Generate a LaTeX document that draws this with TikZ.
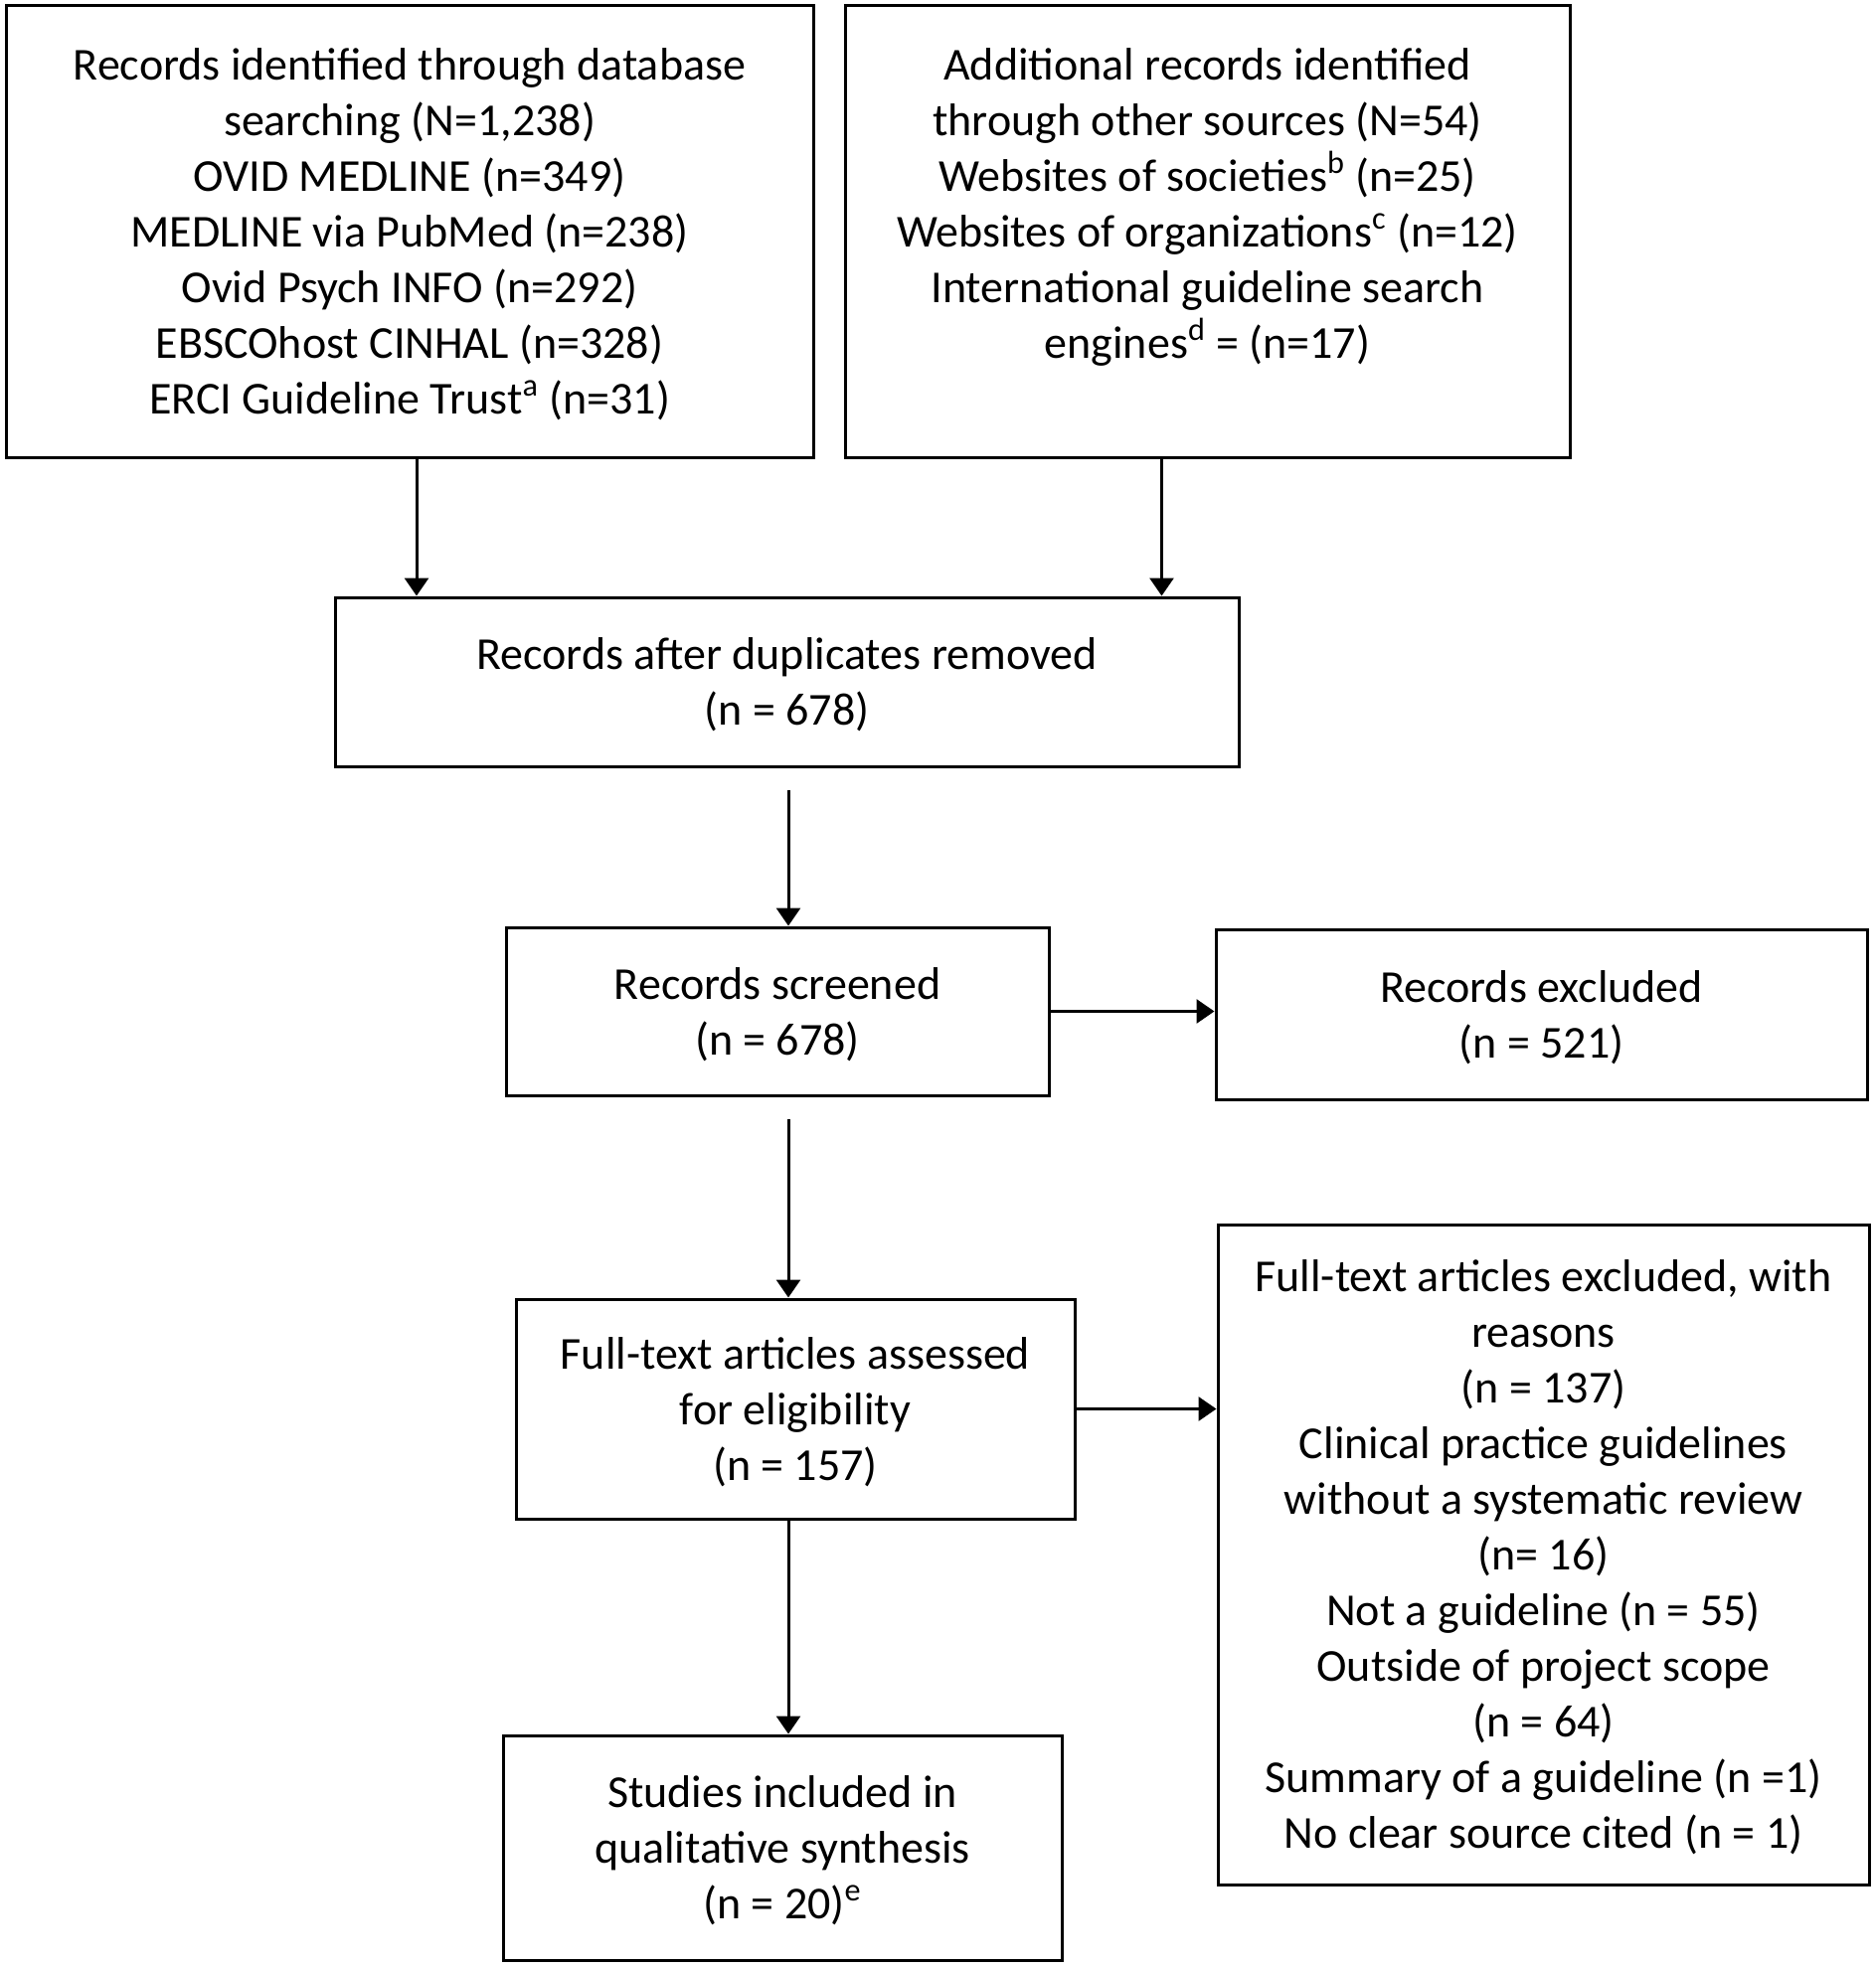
\documentclass[tikz,border=0pt]{standalone}
\usepackage{fontspec}
\setmainfont{Carlito}
\usetikzlibrary{arrows.meta,calc}

\tikzset{
  box/.style={draw,line width=1.5pt,rectangle,align=center,inner sep=0pt,text depth=-5pt},
  arr/.style={line width=1.5pt,-{Triangle[length=9pt,width=12pt]}}
}

\begin{document}
\begin{tikzpicture}[x=0.5pt,y=-0.5pt,font=\fontsize{23}{28}\selectfont]
\useasboundingbox (0,0) rectangle (1886,1980);
\node[box,minimum width=406pt,minimum height=227pt] (db) at (412,233)
  {Records identified through database\\ searching (N=1,238)\\ OVID MEDLINE (n=349)\\
   MEDLINE via PubMed (n=238)\\ Ovid Psych INFO (n=292)\\ EBSCOhost CINHAL (n=328)\\
   ERCI Guideline Trust\textsuperscript{a} (n=31)};
\node[draw,line width=1.5pt,minimum width=364.5pt,minimum height=227pt] (other) at (1214.5,233) {};
\node[align=center,inner sep=0pt,anchor=base] (othertext) at ([yshift=28pt]db.base -| other.center)
  {Additional records identified\\ through other sources (N=54)\\
   Websites of societies\textsuperscript{b} (n=25)\\
   Websites of organizations\textsuperscript{c} (n=12)\\
   International guideline search\\ engines\textsuperscript{d} = (n=17)};
\node[box,minimum width=454.5pt,minimum height=85pt] (dup) at (791.5,686)
  {Records after duplicates removed\\ (n = 678)};
\node[box,minimum width=273pt,minimum height=84.5pt] (screen) at (782,1017.5)
  {Records screened\\ (n = 678)};
\node[box,minimum width=327.5pt,minimum height=85.5pt] (excl) at (1550.5,1020.5)
  {Records excluded\\ (n = 521)};
\node[box,minimum width=281pt,minimum height=110.5pt] (full) at (800,1417.5)
  {Full-text articles assessed\\ for eligibility\\ (n = 157)};
\node[box,minimum width=327.5pt,minimum height=332pt] (ftex) at (1552.5,1564)
  {Full-text articles excluded, with\\ reasons\\ (n = 137)\\
   Clinical practice guidelines\\ without a systematic review\\ (n= 16)\\
   Not a guideline (n = 55)\\ Outside of project scope\\ (n = 64)\\
   Summary of a guideline (n =1)\\ No clear source cited (n = 1)};
\node[box,minimum width=281pt,minimum height=113pt] (incl) at (787,1859)
  {Studies included in\\ qualitative synthesis\\ (n = 20)\textsuperscript{e}};

\coordinate (mid) at (793,0);
\draw[arr] ([xshift=3.5pt]db.south) -- ([xshift=3.5pt]db.south |- dup.north);
\draw[arr] ([xshift=-23pt]other.south) -- ([xshift=-23pt]other.south |- dup.north);
\draw[arr] ($(mid |- dup.south)+(0,22)$) -- (mid |- screen.north);
\draw[arr] (screen.east) -- (screen.east -| excl.west);
\draw[arr] ($(mid |- screen.south)+(0,22)$) -- (mid |- full.north);
\draw[arr] (full.east) -- (full.east -| ftex.west);
\draw[arr] (mid |- full.south) -- (mid |- incl.north);
\end{tikzpicture}
\end{document}
